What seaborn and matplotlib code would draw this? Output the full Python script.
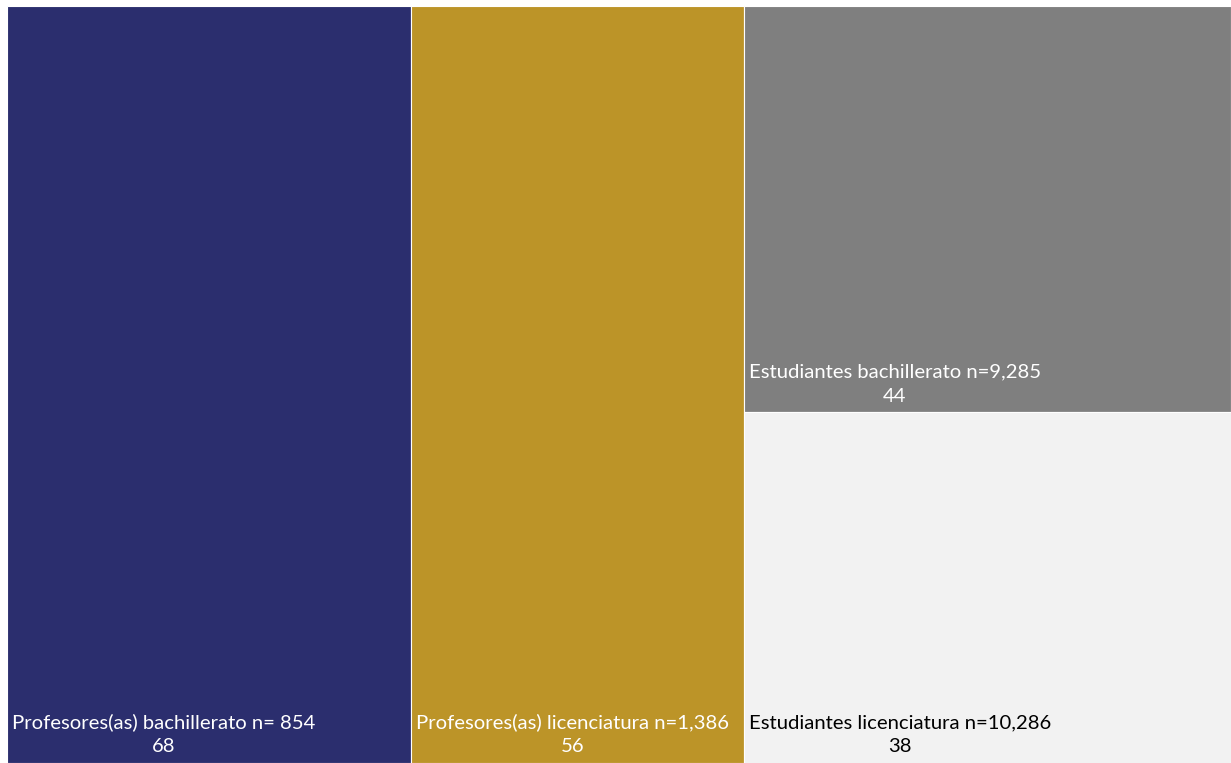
import matplotlib
matplotlib.use("Agg")
import matplotlib.pyplot as plt
import seaborn as sns

# treemap data
groups = ["Profesores(as) bachillerato n= 854",
          "Profesores(as) licenciatura n=1,386",
          "Estudiantes bachillerato n=9,285",
          "Estudiantes licenciatura n=10,286"]
values = [68, 56, 44, 38]
colors = ["#2B2E6E", "#BC9428", "#7F7F7F", "#F2F2F2"]
text_colors = ["white", "white", "white", "black"]

sns.set_theme(style="white")
plt.rcParams['font.family'] = ['Lato', 'DejaVu Sans']

fig = plt.figure(figsize=(12.31, 7.63), dpi=100)
ax = fig.add_axes([7 / 1231, 0, 1224 / 1231, 757 / 763])

total = sum(values)
# layout: first two groups are full-height columns, last two share a column
rects = []
x0 = 0.0
for v in values[:2]:
    w = v / total
    rects.append((x0, 0.0, w, 1.0))
    x0 += w
rest = sum(values[2:])
w = rest / total
y_top = 1.0
for v in values[2:]:
    h = v / rest
    rects.append((x0, y_top - h, w, h))
    y_top -= h

for (x, y, w, h), c in zip(rects, colors):
    ax.bar(x, h, width=w, bottom=y, align="edge", color=c,
           edgecolor="white", linewidth=0.8)

for (x, y, w, h), g, v, tc in zip(rects, groups, values, text_colors):
    ax.text(x + 0.004, y + 0.010, f"{g}\n{v}", ha="left", va="bottom",
            multialignment="center", color=tc, fontsize=14.6, linespacing=1.5)

ax.set_xlim(0, 1)
ax.set_ylim(0, 1)
ax.set_axis_off()

fig.savefig("out.png", dpi=100)
